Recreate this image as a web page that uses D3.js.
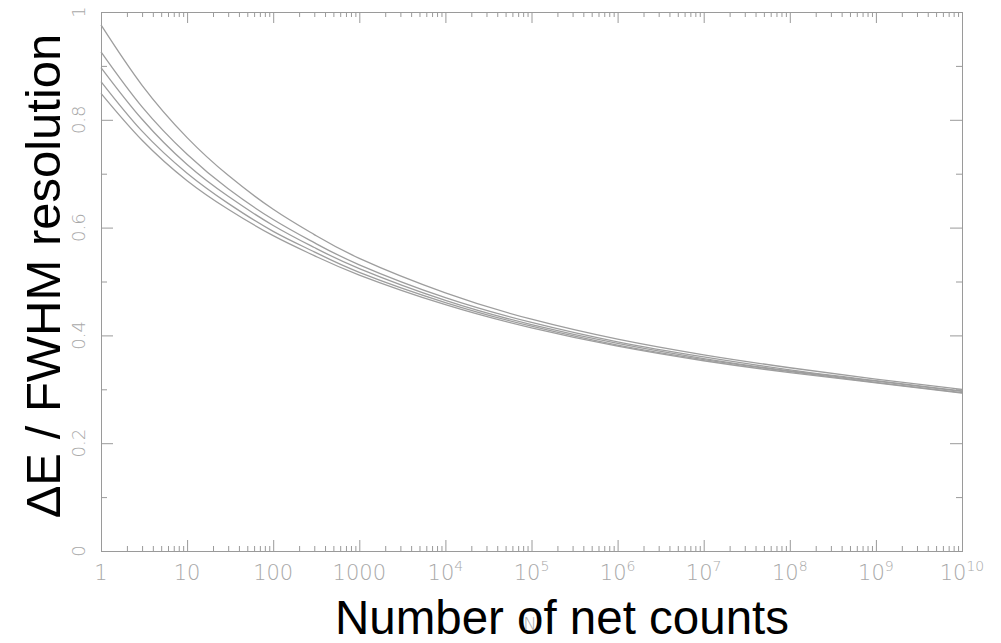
<!DOCTYPE html>
<html>
<head>
<meta charset="utf-8">
<script src="https://cdn.jsdelivr.net/npm/d3@7"></script>
<style>
  html, body { margin: 0; padding: 0; background: #fff; }
  svg { display: block; }
  .tick-label { font-family: "DejaVu Sans", sans-serif; font-weight: 200; fill: #a8a8a8; }
  .title { font-family: "Liberation Sans", Arial, sans-serif; fill: #000; }
</style>
</head>
<body>
<svg id="chart" width="1001" height="643"></svg>
<script>
// Net counts at which each resolution curve is sampled
const counts = [1, 3, 10, 30, 100, 300, 1000, 1e4, 1e5, 1e6, 1e7, 1e8, 1e9, 1e10];

// ΔE / FWHM resolution for the five curves (top to bottom at low counts)
const curve1 = [0.976, 0.864, 0.767, 0.697, 0.634, 0.587, 0.543, 0.479, 0.430, 0.393, 0.364, 0.340, 0.319, 0.300];
const curve2 = [0.926, 0.824, 0.736, 0.672, 0.615, 0.572, 0.531, 0.470, 0.424, 0.388, 0.360, 0.336, 0.316, 0.297];
const curve3 = [0.897, 0.801, 0.717, 0.658, 0.604, 0.563, 0.524, 0.465, 0.420, 0.385, 0.357, 0.334, 0.315, 0.296];
const curve4 = [0.871, 0.779, 0.701, 0.645, 0.593, 0.555, 0.517, 0.461, 0.417, 0.382, 0.355, 0.333, 0.313, 0.294];
const curve5 = [0.849, 0.762, 0.687, 0.634, 0.585, 0.548, 0.512, 0.457, 0.414, 0.380, 0.353, 0.331, 0.312, 0.293];

// Axis tick labels ("base^exponent" for powers of ten)
const xTickValues = [1, 10, 100, 1000, 1e4, 1e5, 1e6, 1e7, 1e8, 1e9, 1e10];
const xTickLabels = ["1", "10", "100", "1000", "10^4", "10^5", "10^6", "10^7", "10^8", "10^9", "10^10"];
const yTickValues = [0, 0.2, 0.4, 0.6, 0.8, 1];
const yTickLabels = ["0", "0.2", "0.4", "0.6", "0.8", "1"];

const xTitle = "Number of net counts";
const yTitle = "ΔE / FWHM resolution";

const svg = d3.select("#chart");
const box = { left: 101, right: 962, top: 12, bottom: 551 };

const x = d3.scaleLog().domain([1, 1e10]).range([box.left, box.right]);
const y = d3.scaleLinear().domain([0, 1]).range([box.bottom, box.top]);

const frameColor = "#9a9a9a";

// Minor tick positions: 2..9 within each decade
const minorX = [];
for (let d = 0; d < 10; d++) {
  for (let k = 2; k <= 9; k++) minorX.push(k * Math.pow(10, d));
}
const minorY = d3.range(0.1, 1, 0.2);

function styleAxis(g) {
  g.select(".domain").remove();
  g.selectAll(".tick line").attr("stroke", frameColor).attr("stroke-width", 1);
  g.selectAll(".tick text").remove();
}

// Ticks on all four sides, pointing inward
svg.append("g").attr("transform", `translate(0,${box.bottom})`)
  .call(d3.axisBottom(x).tickValues(xTickValues).tickSize(-11)).call(styleAxis);
svg.append("g").attr("transform", `translate(0,${box.bottom})`)
  .call(d3.axisBottom(x).tickValues(minorX).tickSize(-5)).call(styleAxis);
svg.append("g").attr("transform", `translate(0,${box.top})`)
  .call(d3.axisTop(x).tickValues(xTickValues).tickSize(-11)).call(styleAxis);
svg.append("g").attr("transform", `translate(0,${box.top})`)
  .call(d3.axisTop(x).tickValues(minorX).tickSize(-5)).call(styleAxis);
svg.append("g").attr("transform", `translate(${box.left},0)`)
  .call(d3.axisLeft(y).tickValues(yTickValues).tickSize(-12)).call(styleAxis);
svg.append("g").attr("transform", `translate(${box.left},0)`)
  .call(d3.axisLeft(y).tickValues(minorY).tickSize(-6)).call(styleAxis);
svg.append("g").attr("transform", `translate(${box.right},0)`)
  .call(d3.axisRight(y).tickValues(yTickValues).tickSize(-12)).call(styleAxis);
svg.append("g").attr("transform", `translate(${box.right},0)`)
  .call(d3.axisRight(y).tickValues(minorY).tickSize(-6)).call(styleAxis);

// Plot frame
svg.append("rect")
  .attr("x", box.left + 0.5).attr("y", box.top + 0.5)
  .attr("width", box.right - box.left).attr("height", box.bottom - box.top)
  .attr("fill", "none").attr("stroke", frameColor).attr("stroke-width", 1);

// Curves, smoothed through the sampled points
const line = d3.line()
  .x((d, i) => x(counts[i]))
  .y(d => y(d))
  .curve(d3.curveNatural);

[curve1, curve2, curve3, curve4, curve5].forEach(vals => {
  svg.append("path")
    .attr("d", line(vals))
    .attr("fill", "none")
    .attr("stroke", "#9e9e9e")
    .attr("stroke-width", 1.3);
});

// X tick labels with superscript exponents
xTickValues.forEach((v, i) => {
  const [base, exp] = xTickLabels[i].split("^");
  const t = svg.append("text")
    .attr("class", "tick-label")
    .attr("x", x(v)).attr("y", 580)
    .attr("text-anchor", "middle")
    .attr("font-size", 21);
  t.append("tspan").text(base);
  if (exp) {
    t.append("tspan").attr("font-size", 14).attr("dy", -9).text(exp);
  }
});

// Y tick labels, rotated
yTickValues.forEach((v, i) => {
  svg.append("text")
    .attr("class", "tick-label")
    .attr("transform", `translate(85,${y(v)}) rotate(-90)`)
    .attr("text-anchor", "middle")
    .attr("font-size", 18)
    .text(yTickLabels[i]);
});

// Axis titles
svg.append("text")
  .attr("class", "title")
  .attr("x", 562).attr("y", 634)
  .attr("text-anchor", "middle")
  .attr("font-size", 47.5)
  .text(xTitle);

svg.append("text")
  .attr("class", "title")
  .attr("transform", `translate(60,276) rotate(-90)`)
  .attr("text-anchor", "middle")
  .attr("font-size", 49)
  .text(yTitle);

// Faint axis-variable symbol under the x title
svg.append("text")
  .attr("class", "tick-label")
  .attr("x", 530).attr("y", 630)
  .attr("text-anchor", "middle")
  .attr("font-size", 18)
  .text("N");
</script>
</body>
</html>
